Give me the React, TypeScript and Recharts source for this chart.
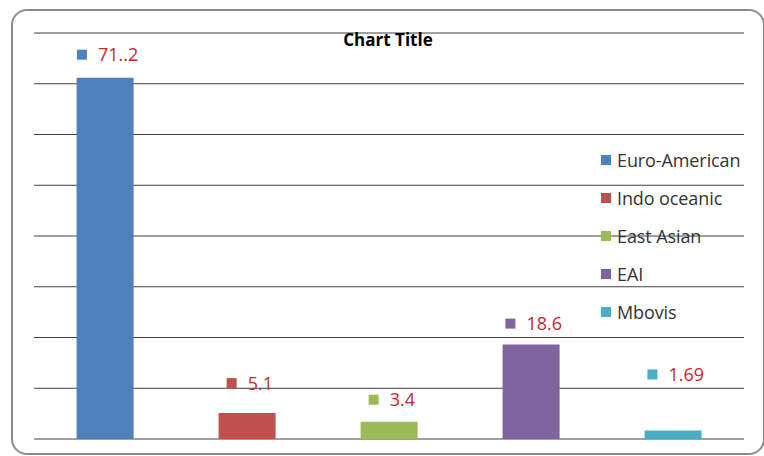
import React from 'react';
import { BarChart, Bar, Cell, XAxis, YAxis, CartesianGrid, LabelList } from 'recharts';

const categories = ['Euro-American', 'Indo oceanic', 'East Asian', 'EAI', 'Mbovis'];
const values = [71.2, 5.1, 3.4, 18.6, 1.69];
const valueLabels = ['71..2', '5.1', '3.4', '18.6', '1.69'];
const yTicks = [0, 10, 20, 30, 40, 50, 60, 70, 80];

const COLORS = ['#4f81bd', '#c0504d', '#9bbb59', '#8064a2', '#4bacc6'];
// how far above the bar top each label sits (labels were dragged by hand in the original)
const LABEL_LIFT = [23, 30, 22, 21, 56];

const data = categories.map((name, i) => ({ name, value: values[i], label: valueLabels[i] }));

const FONT = '"Open Sans", Lato, sans-serif';

const textWidth = (s: string) => s.split('').reduce((w, c) => w + (c === '.' ? 4.9 : 10.5), 0);

const ValueLabel = (props: any) => {
  const { x, y, width, index, value } = props;
  const cx = x + width / 2;
  const cy = y - LABEL_LIFT[index];
  const total = 10 + 11 + textWidth(String(value));
  const start = cx - total / 2 + 3;
  return (
    <g>
      <rect x={start} y={cy - 5} width={10} height={10} fill={COLORS[index]} />
      <text x={start + 21} y={cy} dy="0.36em" fontSize={18} fill="#c3282e" fontFamily={FONT}>
        {value}
      </text>
    </g>
  );
};

const LegendBox = () => (
  <div style={{ position: 'absolute', left: 601, top: 148, fontFamily: FONT, fontSize: 18, color: '#333' }}>
    {categories.map((c, i) => (
      <div key={c} style={{ display: 'flex', alignItems: 'center', height: 38 }}>
        <span style={{ width: 10, height: 10, background: COLORS[i], marginRight: 6, marginTop: -14 }} />
        <span style={{ marginTop: -14, letterSpacing: -0.1 }}>{c}</span>
      </div>
    ))}
  </div>
);

const App: React.FC = () => {
  return (
    <div style={{ position: 'fixed', left: 0, top: 0, width: 764, height: 456, background: '#fff', overflow: 'hidden' }}>
      <div
        style={{
          position: 'absolute',
          left: 11,
          top: 9,
          width: 750,
          height: 442,
          border: '2px solid #8a8a8a',
          borderRadius: 16,
        }}
      />
      <BarChart
        width={764}
        height={456}
        data={data}
        margin={{ top: 33, right: 20, bottom: 17, left: 34 }}
        barCategoryGap="30%"
        style={{ position: 'absolute', left: 0, top: 0 }}
      >
        <CartesianGrid vertical={false} stroke="#404040" strokeWidth={1} />
        <XAxis dataKey="name" hide />
        <YAxis hide domain={[0, 80]} ticks={yTicks} />
        <Bar dataKey="value" isAnimationActive={false}>
          {data.map((d, i) => (
            <Cell key={d.name} fill={COLORS[i]} />
          ))}
          <LabelList dataKey="label" content={ValueLabel} />
        </Bar>
      </BarChart>
      <div
        style={{
          position: 'absolute',
          left: 0,
          width: 776,
          top: 28,
          textAlign: 'center',
          fontFamily: FONT,
          fontWeight: 700,
          fontSize: 17,
          color: '#000',
        }}
      >
        Chart Title
      </div>
      <LegendBox />
    </div>
  );
};

export default App;
